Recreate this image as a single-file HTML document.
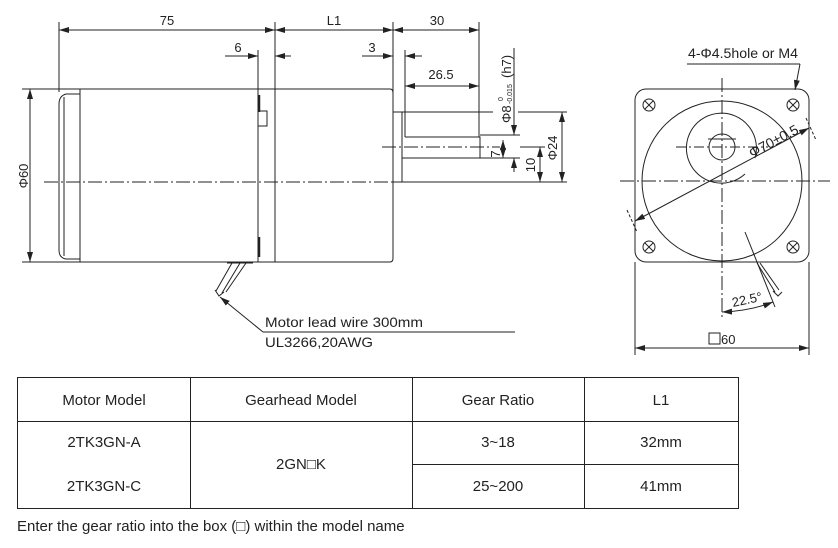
<!DOCTYPE html>
<html><head><meta charset="utf-8"><style>
html,body{margin:0;padding:0;background:#fff;}
svg{display:block;}
text{font-family:"Liberation Sans",sans-serif;fill:#222;}
</style></head><body>
<svg width="838" height="548" viewBox="0 0 838 548" xmlns="http://www.w3.org/2000/svg">
<defs>
<marker id="a" viewBox="0 0 10 6" refX="10" refY="3" markerWidth="10" markerHeight="6" orient="auto-start-reverse" markerUnits="userSpaceOnUse"><path d="M0,0 L10,3 L0,6 z" fill="#222"/></marker>
</defs>
<g stroke="#222" fill="none" stroke-width="1">
<line x1="59" y1="22" x2="59" y2="92"/>
<line x1="275" y1="22" x2="275" y2="262"/>
<line x1="393" y1="22" x2="393" y2="110"/>
<line x1="479" y1="22" x2="479" y2="137"/>
<line x1="258" y1="50" x2="258" y2="262"/>
<line x1="405" y1="50" x2="405" y2="137"/>
<line x1="59" y1="30" x2="275" y2="30" marker-start="url(#a)" marker-end="url(#a)"/>
<line x1="275" y1="30" x2="393" y2="30" marker-start="url(#a)" marker-end="url(#a)"/>
<line x1="393" y1="30" x2="479" y2="30" marker-start="url(#a)" marker-end="url(#a)"/>
<line x1="225" y1="56" x2="258" y2="56" marker-end="url(#a)"/>
<line x1="291" y1="56" x2="275" y2="56" marker-end="url(#a)"/>
<line x1="362" y1="56" x2="393" y2="56" marker-end="url(#a)"/>
<line x1="422" y1="56" x2="405" y2="56" marker-end="url(#a)"/>
<line x1="405" y1="86" x2="479" y2="86" marker-start="url(#a)" marker-end="url(#a)"/>
<path d="M80,89 L80,262 L390,262 Q393,262 393,258 L393,93 Q393,89 390,89 Z"/>
<path d="M80,94 L66,94 Q59,96 59,104 L59,250 Q59,258 66,259 L80,259"/>
<line x1="64" y1="97" x2="64" y2="256"/>
<line x1="275" y1="89" x2="275" y2="262"/>
<rect x="258" y="111" width="9" height="15"/>
<line x1="259" y1="95" x2="259" y2="112" stroke-width="2.5"/>
<line x1="259" y1="237" x2="259" y2="257" stroke-width="2.5"/>
<rect x="393" y="112" width="9" height="70"/>
<path d="M402,139 L402,158 L480,158 L480,137 L405,137"/>
<line x1="44" y1="182" x2="410" y2="182" stroke-dasharray="14,3,2,3"/>
<line x1="382" y1="147" x2="500" y2="147" stroke-dasharray="14,3,2,3"/>
<line x1="402" y1="112" x2="493" y2="112"/>
<line x1="518" y1="112" x2="567" y2="112"/>
<line x1="480" y1="135" x2="520" y2="135"/>
<line x1="480" y1="158" x2="520" y2="158"/>
<line x1="410" y1="182" x2="567" y2="182"/>
<line x1="520" y1="147" x2="545" y2="147"/>
<line x1="514" y1="48" x2="514" y2="135" marker-end="url(#a)"/>
<line x1="514" y1="172" x2="514" y2="158" marker-end="url(#a)"/>
<line x1="503" y1="140" x2="503" y2="158" marker-start="url(#a)" marker-end="url(#a)"/>
<line x1="540" y1="147" x2="540" y2="182" marker-start="url(#a)" marker-end="url(#a)"/>
<line x1="562" y1="112" x2="562" y2="182" marker-start="url(#a)" marker-end="url(#a)"/>
<line x1="22" y1="89" x2="80" y2="89"/>
<line x1="22" y1="262" x2="80" y2="262"/>
<line x1="30" y1="89" x2="30" y2="262" marker-start="url(#a)" marker-end="url(#a)"/>
<path d="M227,263 L253,263"/>
<path d="M232,263 L216,291 M240,263 L222,293 M246,263 L226,292"/>
<path d="M215,290 L219,296 L224,292"/>
<line x1="263" y1="332" x2="220" y2="297" marker-end="url(#a)"/>
<line x1="263" y1="332" x2="515" y2="332"/>
<rect x="635" y="89" width="174" height="173" rx="11"/>
<circle cx="722" cy="181" r="80"/>
<circle cx="722" cy="147" r="13"/>
<path d="M745,174 A35,35 0 1 1 755,158"/>
<line x1="708" y1="139" x2="736" y2="139"/>
<line x1="620" y1="181" x2="830" y2="181" stroke-dasharray="14,3,2,3"/>
<line x1="722" y1="78" x2="722" y2="320" stroke-dasharray="14,3,2,3"/>
<line x1="676" y1="147" x2="768" y2="147" stroke-dasharray="10,3,2,3"/>
<g>
<circle cx="649" cy="105" r="6"/><line x1="645" y1="101" x2="653" y2="109"/><line x1="653" y1="101" x2="645" y2="109"/>
<circle cx="793" cy="105" r="6"/><line x1="789" y1="101" x2="797" y2="109"/><line x1="797" y1="101" x2="789" y2="109"/>
<circle cx="649" cy="247" r="6"/><line x1="645" y1="243" x2="653" y2="251"/><line x1="653" y1="243" x2="645" y2="251"/>
<circle cx="793" cy="247" r="6"/><line x1="789" y1="243" x2="797" y2="251"/><line x1="797" y1="243" x2="789" y2="251"/>
</g>
<line x1="635" y1="221" x2="809" y2="128" marker-start="url(#a)" marker-end="url(#a)"/>
<line x1="627" y1="210" x2="637" y2="232" stroke-dasharray="3,2"/>
<line x1="806" y1="118" x2="816" y2="140" stroke-dasharray="3,2"/>
<line x1="687" y1="64" x2="800" y2="64"/>
<line x1="800" y1="64" x2="795" y2="90" marker-end="url(#a)"/>
<path d="M757,263 L775,292 M760,263 L779,290"/>
<path d="M773,291 L778,296 L782,292"/>
<line x1="745" y1="232" x2="775" y2="307"/>
<path d="M722,312 Q750,311 773,302" marker-start="url(#a)" marker-end="url(#a)"/>
<line x1="635" y1="262" x2="635" y2="355"/>
<line x1="809" y1="262" x2="809" y2="355"/>
<line x1="635" y1="348" x2="809" y2="348" marker-start="url(#a)" marker-end="url(#a)"/>
<rect x="709" y="333" width="11" height="11"/>
</g>
<g font-size="13">
<text x="167" y="25" text-anchor="middle">75</text>
<text x="334" y="25" text-anchor="middle">L1</text>
<text x="437" y="25" text-anchor="middle">30</text>
<text x="238" y="52" text-anchor="middle">6</text>
<text x="372" y="52" text-anchor="middle">3</text>
<text x="441" y="79" text-anchor="middle">26.5</text>
<text transform="translate(28,176) rotate(-90)" text-anchor="middle">Φ60</text>
<text transform="translate(511,123) rotate(-90)">Φ8</text>
<text transform="translate(512,104) rotate(-90)" font-size="7">-0.015</text>
<text transform="translate(503,101) rotate(-90)" font-size="7">0</text>
<text transform="translate(511,78) rotate(-90)">(h7)</text>
<text transform="translate(500,154) rotate(-90)" text-anchor="middle">7</text>
<text transform="translate(535,165) rotate(-90)" text-anchor="middle">10</text>
<text transform="translate(557,148) rotate(-90)" text-anchor="middle">Φ24</text>
<text x="265" y="327" textLength="158" lengthAdjust="spacingAndGlyphs" font-size="14">Motor lead wire 300mm</text>
<text x="265" y="347" textLength="108" lengthAdjust="spacingAndGlyphs" font-size="14">UL3266,20AWG</text>
<text x="688" y="58" textLength="110" lengthAdjust="spacingAndGlyphs" font-size="14">4-Φ4.5hole or M4</text>
<text transform="translate(752,158) rotate(-28)" font-size="14">Φ70±0.5</text>
<text transform="translate(733,307) rotate(-12)">22.5°</text>
<text x="721" y="344">60</text>
</g>
<g stroke="#222" stroke-width="1" fill="none">
<rect x="17.5" y="377.5" width="721" height="131"/>
<line x1="17" y1="421.5" x2="739" y2="421.5"/>
<line x1="412" y1="464.5" x2="739" y2="464.5"/>
<line x1="190.5" y1="377" x2="190.5" y2="508"/>
<line x1="412.5" y1="377" x2="412.5" y2="508"/>
<line x1="584.5" y1="377" x2="584.5" y2="508"/>
</g>
<g font-size="15" text-anchor="middle">
<text x="104" y="405">Motor Model</text>
<text x="301" y="405">Gearhead Model</text>
<text x="498" y="405">Gear Ratio</text>
<text x="661" y="405">L1</text>
<text x="104" y="447">2TK3GN-A</text>
<text x="104" y="491">2TK3GN-C</text>
<text x="301" y="469">2GN□K</text>
<text x="498" y="447">3~18</text>
<text x="498" y="491">25~200</text>
<text x="661" y="447">32mm</text>
<text x="661" y="491">41mm</text>
</g>
<text x="17" y="531" font-size="15">Enter the gear ratio into the box (□) within the model name</text>
</svg>
</body></html>
